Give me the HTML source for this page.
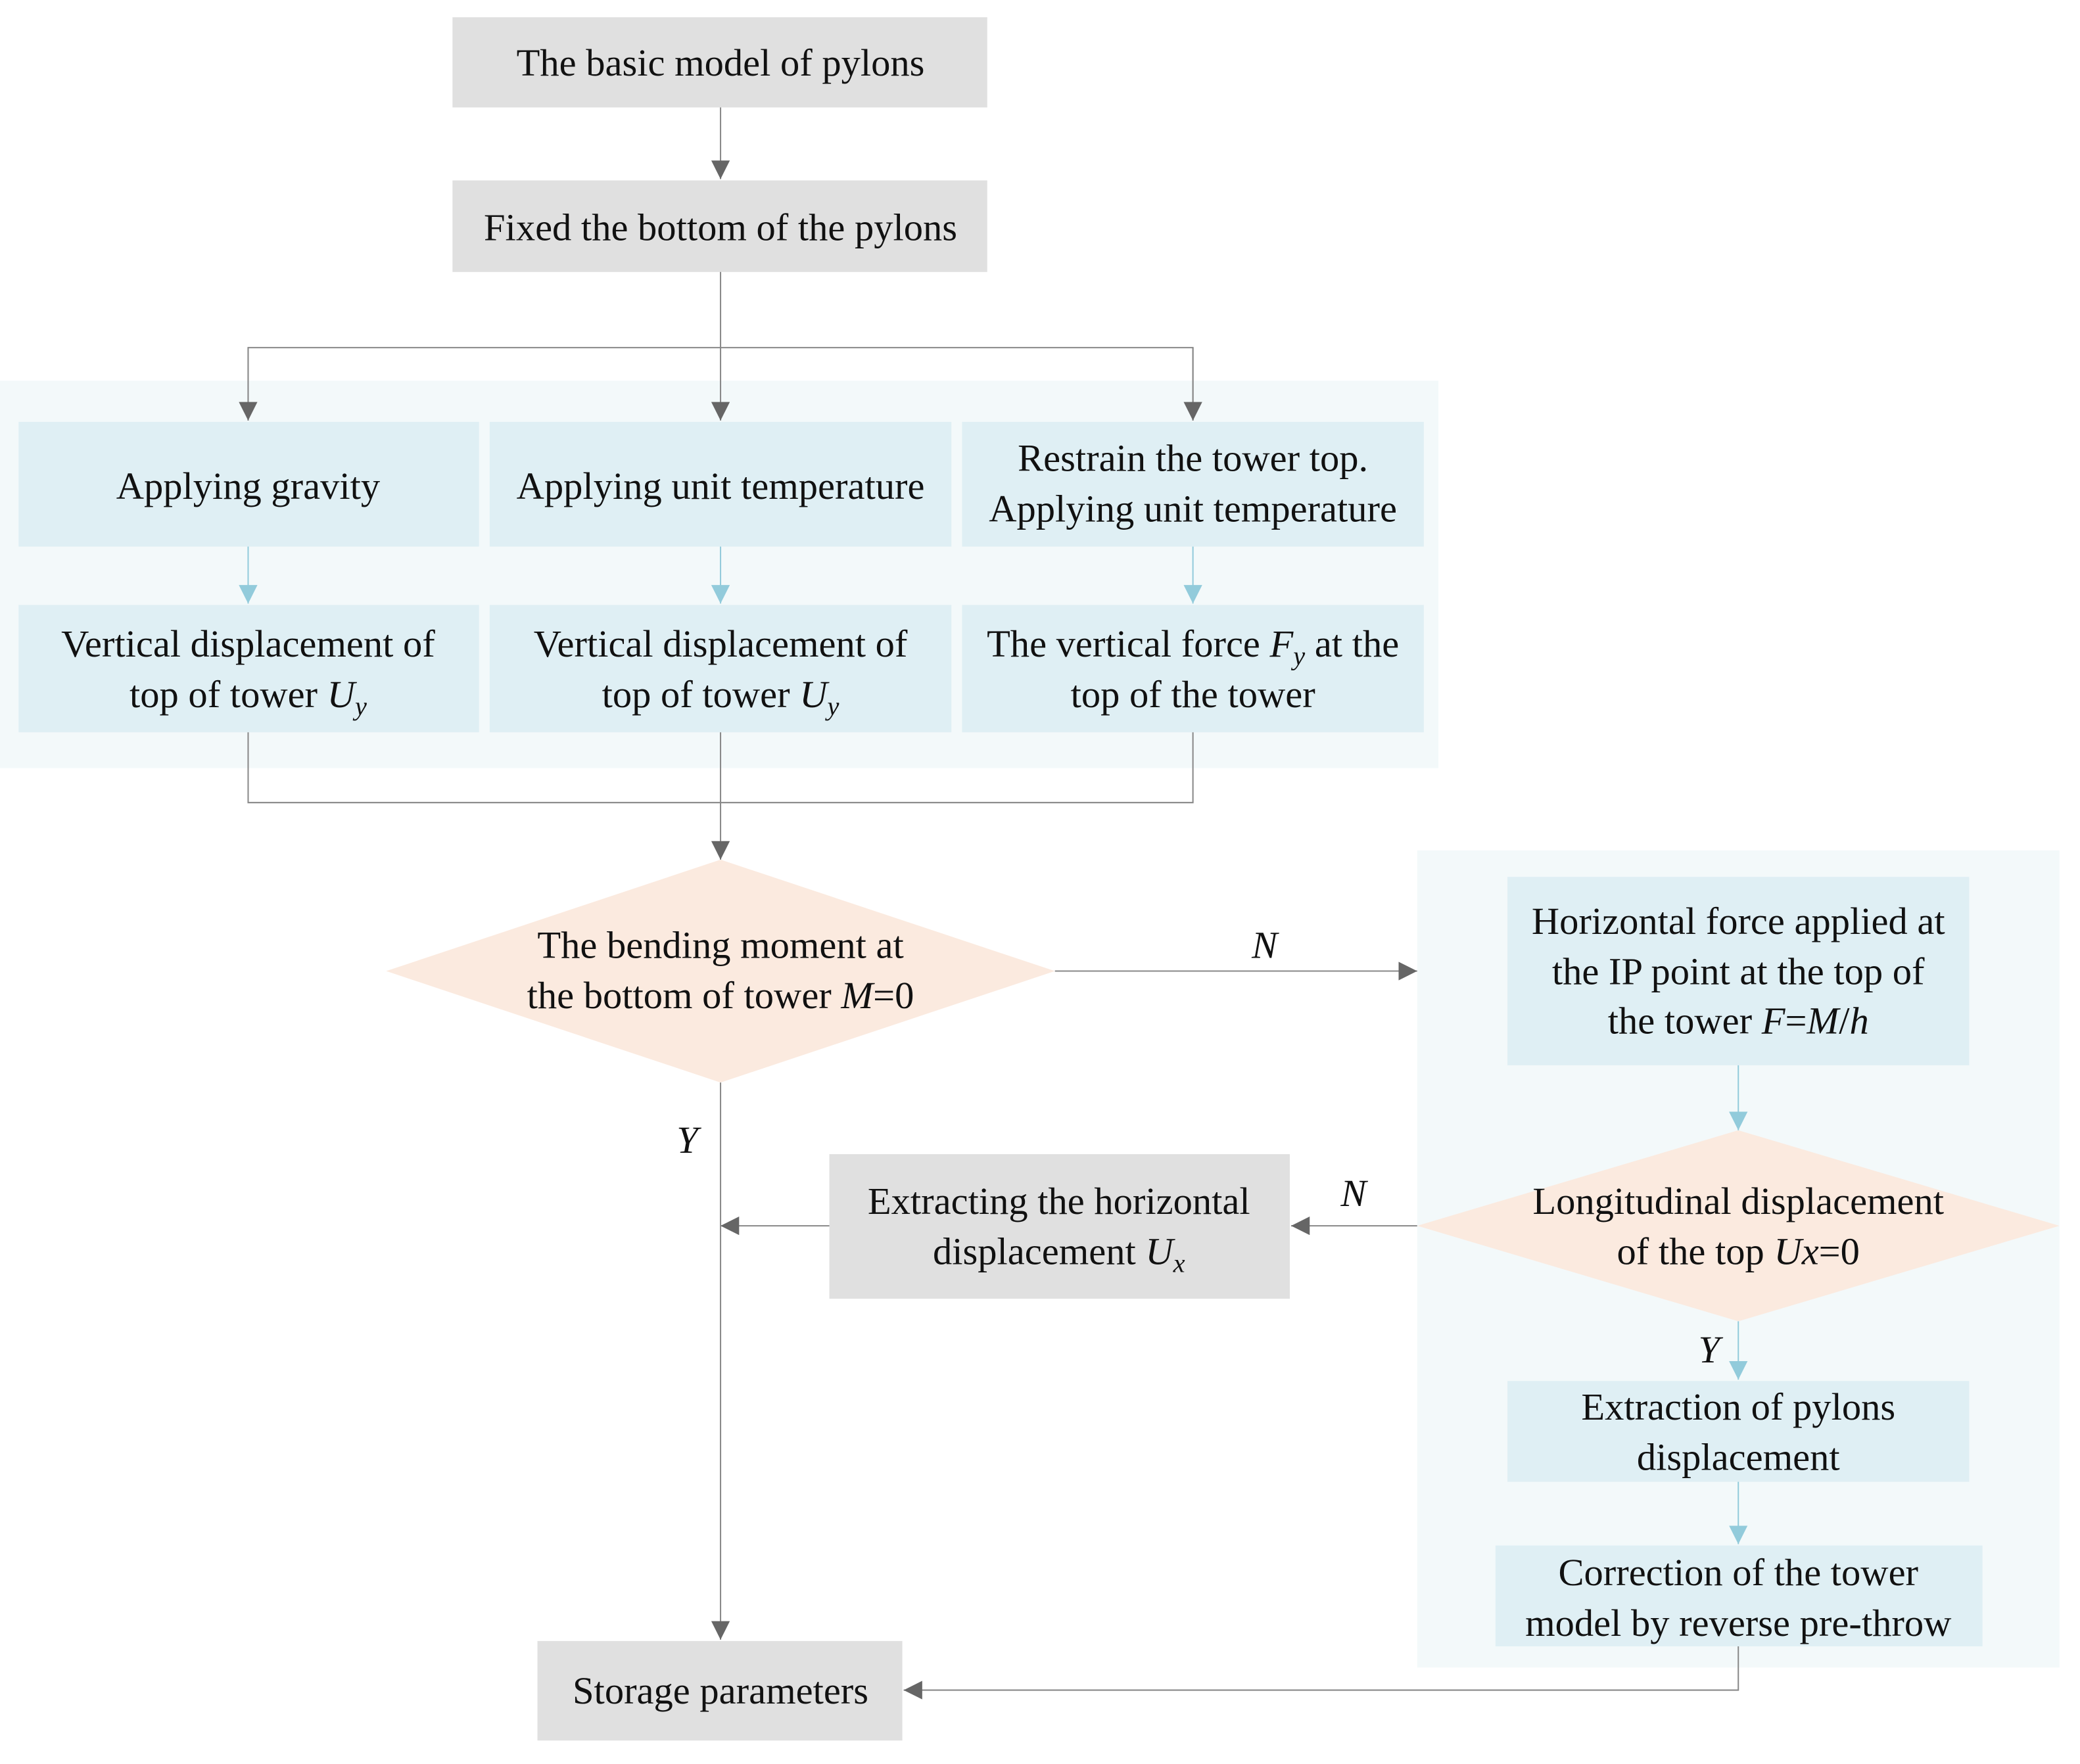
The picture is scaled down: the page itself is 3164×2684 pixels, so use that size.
<!DOCTYPE html>
<html><head><meta charset="utf-8"><style>html,body{margin:0;padding:0;background:#fff}svg{display:block}text{font-family:"Liberation Serif",serif;font-size:29px;fill:#111;text-anchor:middle}</style></head><body>
<svg width="3164" height="2684" viewBox="0 0 1567.5 1329.7" xmlns="http://www.w3.org/2000/svg">
<defs>
<marker id="ag" viewBox="0 0 10 10" refX="10" refY="5" markerWidth="14" markerHeight="14" markerUnits="userSpaceOnUse" orient="auto"><path d="M0,0L10,5L0,10z" fill="#666"/></marker>
<marker id="ab" viewBox="0 0 10 10" refX="10" refY="5" markerWidth="14" markerHeight="14" markerUnits="userSpaceOnUse" orient="auto"><path d="M0,0L10,5L0,10z" fill="#92cbdb"/></marker>
</defs>
<rect x="0" y="287" width="1084" height="292" fill="#f3f9fa"/>
<rect x="1068" y="641" width="484" height="616" fill="#f3f9fa"/>
<g fill="#e0e0e0">
<rect x="341" y="13" width="403" height="68"/>
<rect x="341" y="136" width="403" height="69"/>
<rect x="625" y="870" width="347" height="109"/>
<rect x="405" y="1237" width="275" height="75"/>
</g>
<g fill="#dfeff4">
<rect x="14" y="318" width="347" height="94"/><rect x="369" y="318" width="348" height="94"/><rect x="725" y="318" width="348" height="94"/>
<rect x="14" y="456" width="347" height="96"/><rect x="369" y="456" width="348" height="96"/><rect x="725" y="456" width="348" height="96"/>
<rect x="1136" y="661" width="348" height="142"/>
<rect x="1136" y="1041" width="348" height="76"/>
<rect x="1127" y="1165" width="367" height="76"/>
</g>
<g fill="#fbeadf">
<polygon points="291,732 543,648 795,732 543,816"/>
<polygon points="1068,924 1310,852 1552,924 1310,996"/>
</g>
<g stroke="#888" stroke-width="1" fill="none">
<line x1="543" y1="81" x2="543" y2="135" marker-end="url(#ag)"/>
<line x1="543" y1="205" x2="543" y2="317" marker-end="url(#ag)"/>
<polyline points="187,317 187,262 899,262 899,317" />
<line x1="187" y1="262" x2="187" y2="317" marker-end="url(#ag)"/>
<line x1="899" y1="262" x2="899" y2="317" marker-end="url(#ag)"/>
<polyline points="187,552 187,605 899,605 899,552"/>
<line x1="543" y1="552" x2="543" y2="648" marker-end="url(#ag)"/>
<line x1="795" y1="732" x2="1068" y2="732" marker-end="url(#ag)"/>
<line x1="1068" y1="924" x2="973" y2="924" marker-end="url(#ag)"/>
<line x1="625" y1="924" x2="543" y2="924" marker-end="url(#ag)"/>
<line x1="543" y1="816" x2="543" y2="1236" marker-end="url(#ag)"/>
<polyline points="1310,1241 1310,1274 681,1274" marker-end="url(#ag)"/>
</g>
<g stroke="#92cbdb" stroke-width="1" fill="none">
<line x1="187" y1="412" x2="187" y2="455" marker-end="url(#ab)"/>
<line x1="543" y1="412" x2="543" y2="455" marker-end="url(#ab)"/>
<line x1="899" y1="412" x2="899" y2="455" marker-end="url(#ab)"/>
<line x1="1310" y1="803" x2="1310" y2="852" marker-end="url(#ab)"/>
<line x1="1310" y1="996" x2="1310" y2="1040" marker-end="url(#ab)"/>
<line x1="1310" y1="1117" x2="1310" y2="1164" marker-end="url(#ab)"/>
</g>
<text x="543" y="57">The basic model of pylons</text>
<text x="543" y="181">Fixed the bottom of the pylons</text>
<text x="187" y="376">Applying gravity</text>
<text x="543" y="376">Applying unit temperature</text>
<text x="899" y="355">Restrain the tower top.</text>
<text x="899" y="393">Applying unit temperature</text>
<text x="187" y="495">Vertical displacement of</text>
<text x="187" y="533">top of tower <tspan font-style="italic">U<tspan font-size="20" dy="6">y</tspan></tspan></text>
<text x="543" y="495">Vertical displacement of</text>
<text x="543" y="533">top of tower <tspan font-style="italic">U<tspan font-size="20" dy="6">y</tspan></tspan></text>
<text x="899" y="495">The vertical force <tspan font-style="italic">F<tspan font-size="20" dy="6">y</tspan></tspan><tspan dy="-6"> at the</tspan></text>
<text x="899" y="533">top of the tower</text>
<text x="543" y="722">The bending moment at</text>
<text x="543" y="760">the bottom of tower <tspan font-style="italic">M</tspan>=0</text>
<text x="953" y="722" font-style="italic" font-size="26">N</text>
<text x="1310" y="704">Horizontal force applied at</text>
<text x="1310" y="742">the IP point at the top of</text>
<text x="1310" y="779">the tower  <tspan font-style="italic">F</tspan>=<tspan font-style="italic">M</tspan>/<tspan font-style="italic">h</tspan></text>
<text x="1310" y="915">Longitudinal displacement</text>
<text x="1310" y="953">of the top  <tspan font-style="italic">Ux</tspan>=0</text>
<text x="1020" y="909" font-style="italic" font-size="26">N</text>
<text x="798" y="915">Extracting the horizontal</text>
<text x="798" y="953">displacement <tspan font-style="italic">U<tspan font-size="20" dy="6">x</tspan></tspan></text>
<text x="518" y="869" font-style="italic" font-size="26">Y</text>
<text x="1288" y="1027" font-style="italic" font-size="26">Y</text>
<text x="1310" y="1070">Extraction of pylons</text>
<text x="1310" y="1108">displacement</text>
<text x="1310" y="1195">Correction of the tower</text>
<text x="1310" y="1233">model by reverse pre-throw</text>
<text x="543" y="1284">Storage parameters</text>
</svg>
</body></html>
